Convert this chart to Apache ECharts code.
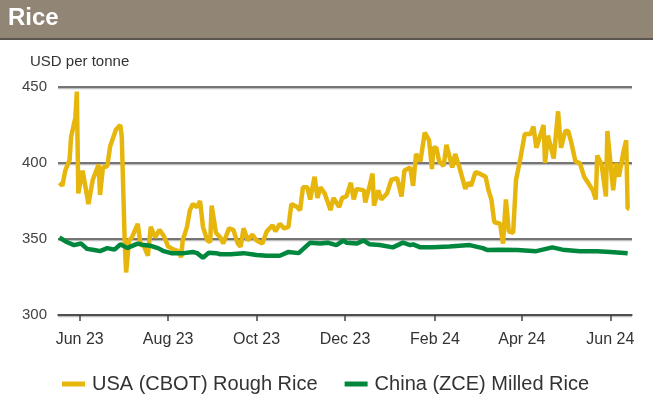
<!DOCTYPE html>
<html>
<head>
<meta charset="utf-8">
<script src="https://cdn.jsdelivr.net/npm/echarts@6/dist/echarts.min.js"></script>
<style>
  html, body { margin: 0; padding: 0; background: #fff; }
  #chart { width: 653px; height: 403px; }
</style>
</head>
<body>
<div id="chart"></div>
<script>
// USA (CBOT) rough rice, USD per tonne
const usaDates = [
  '2023-05-18', '2023-05-20', '2023-05-22', '2023-05-25', '2023-05-26', '2023-05-29', '2023-05-30', '2023-05-31',
  '2023-06-03', '2023-06-07', '2023-06-10', '2023-06-14', '2023-06-15', '2023-06-17', '2023-06-20', '2023-06-22',
  '2023-06-26', '2023-06-29', '2023-06-30', '2023-07-02', '2023-07-03', '2023-07-05', '2023-07-07', '2023-07-11',
  '2023-07-13', '2023-07-15', '2023-07-18', '2023-07-20', '2023-07-23', '2023-07-26', '2023-07-29', '2023-08-01',
  '2023-08-05', '2023-08-08', '2023-08-10', '2023-08-11', '2023-08-14', '2023-08-16', '2023-08-18', '2023-08-21',
  '2023-08-23', '2023-08-25', '2023-08-28', '2023-08-30', '2023-08-31', '2023-09-03', '2023-09-06', '2023-09-08',
  '2023-09-12', '2023-09-15', '2023-09-18', '2023-09-20', '2023-09-22', '2023-09-25', '2023-09-28', '2023-10-01',
  '2023-10-05', '2023-10-08', '2023-10-12', '2023-10-14', '2023-10-17', '2023-10-20', '2023-10-23', '2023-10-25',
  '2023-10-29', '2023-10-31', '2023-11-02', '2023-11-05', '2023-11-07', '2023-11-10', '2023-11-12', '2023-11-14',
  '2023-11-17', '2023-11-21', '2023-11-23', '2023-11-27', '2023-11-29', '2023-12-02', '2023-12-05', '2023-12-07',
  '2023-12-09', '2023-12-14', '2023-12-15', '2023-12-18', '2023-12-20', '2023-12-21', '2023-12-24', '2023-12-26',
  '2023-12-30', '2024-01-02', '2024-01-06', '2024-01-09', '2024-01-11', '2024-01-15', '2024-01-17', '2024-01-19',
  '2024-01-22', '2024-01-23', '2024-01-25', '2024-01-28', '2024-01-30', '2024-01-31', '2024-02-02', '2024-02-04',
  '2024-02-07', '2024-02-09', '2024-02-13', '2024-02-15', '2024-02-18', '2024-02-22', '2024-02-24', '2024-02-26',
  '2024-02-29', '2024-03-03', '2024-03-07', '2024-03-09', '2024-03-11', '2024-03-13', '2024-03-17', '2024-03-19',
  '2024-03-21', '2024-03-23', '2024-03-26', '2024-03-28', '2024-03-31', '2024-04-01', '2024-04-03', '2024-04-07',
  '2024-04-09', '2024-04-11', '2024-04-14', '2024-04-16', '2024-04-17', '2024-04-19', '2024-04-23', '2024-04-26',
  '2024-04-28', '2024-05-01', '2024-05-03', '2024-05-05', '2024-05-08', '2024-05-11', '2024-05-14', '2024-05-16',
  '2024-05-20', '2024-05-22', '2024-05-23', '2024-05-26', '2024-05-29', '2024-05-30', '2024-06-03', '2024-06-05',
  '2024-06-07', '2024-06-10', '2024-06-12', '2024-06-13', '2024-06-14'
];
const usaValues = [
  387, 385, 395, 402, 417, 430, 447, 380,
  395, 373, 389, 399, 379, 397, 398, 411,
  422, 425, 417, 349, 328, 349, 351, 360,
  346, 346, 339, 358, 351, 356, 352, 345,
  343, 342, 338, 349, 358, 369, 373, 371,
  375, 358, 349, 348, 372, 354, 351, 347,
  357, 356, 347, 345, 357, 349, 353, 349,
  347, 355, 359, 355, 360, 357, 358, 373,
  371, 369, 384, 384, 376, 391, 377, 384,
  380, 369, 377, 371, 377, 378, 387, 376,
  383, 382, 374, 385, 393, 372, 382, 376,
  380, 389, 390, 378, 395, 397, 385, 406,
  401, 400, 420, 415, 396, 410, 410, 401,
  398, 412, 397, 406, 397, 383, 387, 385,
  394, 393, 391, 382, 376, 361, 360, 347,
  376, 355, 354, 389, 403, 403, 419, 419,
  424, 410, 419, 425, 400, 418, 403, 434,
  410, 421, 421, 414, 401, 400, 391, 388,
  382, 376, 405, 399, 378, 421, 382, 400,
  391, 407, 415, 370, 370
];

// China (ZCE) milled rice, USD per tonne
const chinaDates = [
  '2023-05-18', '2023-05-23', '2023-05-28', '2023-06-02', '2023-06-06', '2023-06-11', '2023-06-15', '2023-06-20',
  '2023-06-25', '2023-06-29', '2023-07-04', '2023-07-06', '2023-07-11', '2023-07-15', '2023-07-20', '2023-07-25',
  '2023-07-29', '2023-08-03', '2023-08-07', '2023-08-12', '2023-08-18', '2023-08-21', '2023-08-25', '2023-08-29',
  '2023-09-03', '2023-09-06', '2023-09-13', '2023-09-22', '2023-10-01', '2023-10-08', '2023-10-17', '2023-10-23',
  '2023-10-30', '2023-11-07', '2023-11-14', '2023-11-19', '2023-11-25', '2023-11-30', '2023-12-02', '2023-12-09',
  '2023-12-14', '2023-12-18', '2023-12-25', '2024-01-03', '2024-01-10', '2024-01-15', '2024-01-17', '2024-01-22',
  '2024-01-31', '2024-02-11', '2024-02-25', '2024-03-05', '2024-03-08', '2024-03-17', '2024-03-29', '2024-04-11',
  '2024-04-22', '2024-04-29', '2024-05-11', '2024-05-23', '2024-06-01', '2024-06-13'
];
const chinaValues = [
  351, 348, 346, 347, 343.5, 342.8, 342, 344,
  343, 346.5, 344, 345, 347, 346, 345.5, 344,
  342, 340.7, 340.7, 340.7, 341.5, 340.7, 337.7, 341,
  340.7, 340, 340, 340.7, 339.5, 339, 339, 341.5,
  340.7, 347.6, 347, 347.6, 346, 349, 347.6, 347,
  349, 346.5, 346, 344.5, 347.6, 346, 346.5, 344.5,
  344.5, 345, 346, 344, 342.8, 343, 342.8, 342,
  344.5, 343, 342, 342, 341.5, 340.7
];

const tickDates = ['2023-06-01', '2023-08-01', '2023-10-01', '2023-12-01', '2024-02-01', '2024-04-01', '2024-06-01'];
const tickLabels = ['Jun 23', 'Aug 23', 'Oct 23', 'Dec 23', 'Feb 24', 'Apr 24', 'Jun 24'];
const yTicks = [300, 350, 400, 450];

// dates as day numbers (UTC) so a plain value axis can place them
function dayNum(s) {
  const p = s.split('-').map(Number);
  return Date.UTC(p[0], p[1] - 1, p[2]) / 86400000;
}

const tickDays = tickDates.map(dayNum);
const labelByDay = {};
tickDays.forEach((t, i) => { labelByDay[t] = tickLabels[i]; });

const usaData = usaDates.map((d, i) => [dayNum(d), usaValues[i]]);
const chinaData = chinaDates.map((d, i) => [dayNum(d), chinaValues[i]]);

const FONT = '"Liberation Sans", Arial, sans-serif';

const option = {
  backgroundColor: '#fff',
  animation: false,
  textStyle: { fontFamily: FONT },
  graphic: [
    { type: 'rect', left: 0, top: 0, shape: { width: 653, height: 38 }, style: { fill: '#918676' } },
    { type: 'rect', left: 0, top: 38, shape: { width: 653, height: 2 }, style: { fill: '#5b5750' } },
    { type: 'text', left: 8, top: 6, style: { text: 'Rice', fill: '#fff', font: 'bold 24px ' + FONT } },
    { type: 'text', left: 30, top: 54, style: { text: 'USD per tonne', fill: '#333', font: '15px ' + FONT } }
  ],
  legend: {
    top: 369,
    left: 57,
    itemGap: 27,
    itemWidth: 23,
    itemHeight: 5,
    icon: 'rect',
    textStyle: { fontSize: 20, color: '#333', fontFamily: FONT, padding: [0, 0, 0, 2] },
    data: ['USA (CBOT) Rough Rice', 'China (ZCE) Milled Rice']
  },
  grid: { left: 58, right: 21, top: 87, bottom: 88 },
  xAxis: {
    type: 'value',
    min: dayNum('2023-05-17'),
    max: dayNum('2024-06-16'),
    axisLine: { show: true, lineStyle: { color: '#444', width: 1.5 } },
    axisTick: { show: true, customValues: tickDays, length: 6, lineStyle: { color: '#444', width: 1.5 } },
    axisLabel: {
      customValues: tickDays,
      formatter: v => labelByDay[v] || '',
      color: '#333',
      fontSize: 16,
      margin: 17
    },
    splitLine: { show: false }
  },
  yAxis: {
    type: 'value',
    min: yTicks[0],
    max: yTicks[yTicks.length - 1],
    interval: 50,
    axisLine: { show: false },
    axisTick: { show: false },
    axisLabel: { color: '#444', fontSize: 15, margin: 11 },
    splitLine: {
      lineStyle: { color: '#4a4a4a', width: 1.5, shadowColor: 'rgba(0,0,0,0.25)', shadowOffsetY: 1.5 }
    }
  },
  series: [
    {
      name: 'USA (CBOT) Rough Rice',
      type: 'line',
      data: usaData,
      showSymbol: false,
      symbol: 'none',
      color: '#E7B60D',
      lineStyle: { width: 4.5, color: '#E7B60D' },
      z: 3
    },
    {
      name: 'China (ZCE) Milled Rice',
      type: 'line',
      data: chinaData,
      showSymbol: false,
      symbol: 'none',
      color: '#00873E',
      lineStyle: { width: 4.5, color: '#00873E' },
      z: 4
    }
  ]
};

const myChart = echarts.init(document.getElementById('chart'));
myChart.setOption(option);
</script>
</body>
</html>
